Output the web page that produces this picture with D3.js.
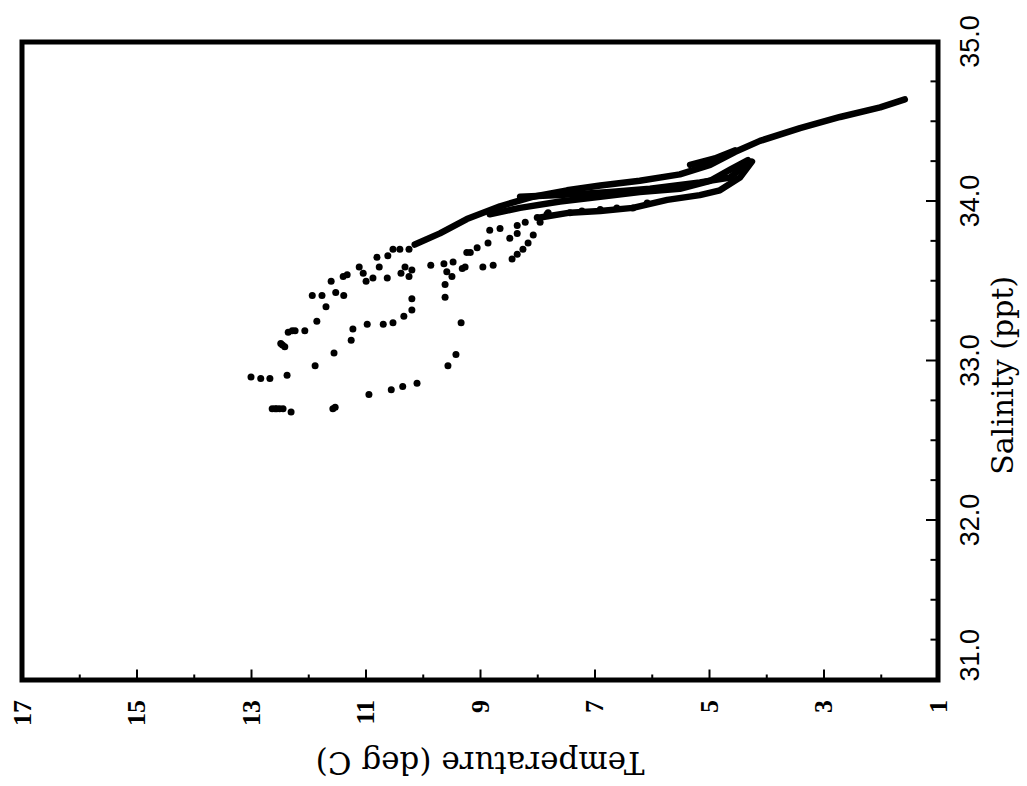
<!DOCTYPE html>
<html>
<head>
<meta charset="utf-8">
<script src="https://cdn.jsdelivr.net/npm/d3@7"></script>
<style>
  body { margin: 0; background: #fff; }
  svg { display: block; }
</style>
</head>
<body>
<script>
// T-S diagram, drawn upright and then turned -90 degrees like the scanned figure

// tick labels
var tempTicks = [17, 15, 13, 11, 9, 7, 5, 3, 1];
var salTicks = [31.0, 32.0, 33.0, 34.0, 35.0];

// shallow casts, [temperature, salinity] -- plotted as dots
var castA = [[13.00,32.90],[12.83,32.89],[12.67,32.89],[12.37,32.91],[11.88,32.97],[11.55,33.05],
  [11.25,33.13],[11.22,33.20],[10.97,33.23],[10.69,33.23],[10.52,33.24],[10.33,33.28],[10.19,33.32],
  [10.19,33.39],[9.61,33.40],[9.61,33.48],[9.49,33.53],[9.58,33.56],[9.31,33.58],[9.26,33.59],
  [8.95,33.59],[8.77,33.60],[8.44,33.64],[8.35,33.67],[8.25,33.70],[8.16,33.74],[8.07,33.79],
  [7.81,33.93],[7.43,33.93],[7.22,33.94],[6.90,33.95],[6.61,33.96],[6.33,33.96],[6.08,33.99]];

var castB = [[12.63,32.70],[12.58,32.70],[12.55,32.70],[12.50,32.70],[12.44,32.70],[12.30,32.68],
  [11.57,32.70],[11.53,32.71],[10.94,32.79],[10.55,32.82],[10.35,32.84],[10.10,32.86],[9.56,32.97],
  [9.42,33.04],[9.33,33.24],[9.23,33.68],[9.17,33.68],[9.05,33.71],[8.86,33.74],[8.83,33.82],
  [8.65,33.83],[8.48,33.77],[8.35,33.80],[8.35,33.85],[8.21,33.87],[8.00,33.90],[7.95,33.87],
  [7.83,33.92]];

var castC = [[12.48,33.11],[12.41,33.09],[12.45,33.10],[12.35,33.18],[12.28,33.19],[12.23,33.19],
  [12.06,33.19],[11.85,33.25],[11.69,33.34],[11.93,33.41],[11.76,33.41],[11.52,33.43],[11.38,33.41],
  [11.60,33.50],[11.39,33.53],[11.32,33.54],[11.11,33.59],[11.04,33.55],[10.99,33.50],[10.87,33.52],
  [10.80,33.65],[10.76,33.59],[10.62,33.52],[10.61,33.66],[10.52,33.70],[10.40,33.70],[10.38,33.55],
  [10.31,33.59],[10.24,33.70],[10.24,33.53],[10.19,33.57],[9.86,33.60],[9.63,33.61],[9.47,33.62]];

// deep parts of the casts, where the dots run together into solid bands
var deep1 = [[10.14,33.73],[9.70,33.80],[9.23,33.89],[8.65,33.97],[8.07,34.03],[7.48,34.07],
  [6.90,34.10],[6.21,34.13],[5.51,34.17],[4.98,34.23],[4.55,34.31],[4.11,34.38],[3.41,34.46],
  [2.71,34.53],[2.01,34.59],[1.58,34.64]];
var deep2 = [[8.83,33.92],[8.30,33.96],[7.60,34.00],[6.90,34.03],[6.21,34.06],[5.51,34.08],
  [4.98,34.13],[4.63,34.20],[4.32,34.26]];
var deep3 = [[7.95,33.90],[7.43,33.93],[6.90,33.94],[6.33,33.96],[5.73,34.01],[5.16,34.04],
  [4.81,34.07],[4.46,34.15],[4.25,34.25]];
var deep4 = [[8.30,34.03],[7.60,34.04],[6.73,34.06],[6.03,34.08],[5.16,34.12],[4.63,34.15],[4.37,34.23]];
var deep5 = [[5.33,34.23],[4.90,34.27],[4.55,34.32]];

var svg = d3.select('body').append('svg')
  .attr('width', 1027)
  .attr('height', 786);

svg.append('rect').attr('width', 1027).attr('height', 786).attr('fill', '#fff');

// upright chart size: salinity across, temperature up
var plotW = 638;
var plotH = 916;

var x = d3.scaleLinear().domain([31, 35]).range([0, plotW]);
var y = d3.scaleLinear().domain([1, 17]).range([plotH, 0]);

var g = svg.append('g')
  .attr('transform', 'translate(22,680) rotate(-90)');

// minor ticks first
var salMinor = d3.range(31.25, 35, 0.25).filter(function(d) { return Math.abs(d - Math.round(d)) > 0.01; });
var tempMinor = d3.range(2, 17, 2);

g.append('g')
  .attr('transform', 'translate(0,' + plotH + ')')
  .call(d3.axisBottom(x).tickValues(salMinor).tickSize(-7.5).tickFormat(''))
  .call(function(a) { a.select('.domain').remove(); a.selectAll('line').attr('stroke-width', 2); });

g.append('g')
  .call(d3.axisLeft(y).tickValues(tempMinor).tickSize(-5.5).tickFormat(''))
  .call(function(a) { a.select('.domain').remove(); a.selectAll('line').attr('stroke-width', 2); });

// major ticks + labels
var salAxis = g.append('g')
  .attr('transform', 'translate(0,' + plotH + ')')
  .call(d3.axisBottom(x).tickValues(salTicks).tickSize(-12).tickPadding(22).tickFormat(d3.format('.1f')));
salAxis.select('.domain').remove();
salAxis.selectAll('line').attr('stroke-width', 2);
salAxis.selectAll('text')
  .attr('font-family', '"Liberation Sans", Arial, sans-serif')
  .attr('font-size', 27)
  .attr('fill', '#000')
  .attr('text-anchor', function(d) { return d === 31 ? 'start' : 'middle'; })
  .attr('x', function(d) { return d === 31 ? -2 : 0; });

var tempAxis = g.append('g')
  .call(d3.axisLeft(y).tickValues(tempTicks).tickSize(-10.5).tickPadding(20).tickFormat(d3.format('d')));
tempAxis.select('.domain').remove();
tempAxis.selectAll('line').attr('stroke-width', 2);
tempAxis.selectAll('text')
  .attr('font-family', '"Liberation Serif", "Times New Roman", serif')
  .attr('font-weight', 'bold')
  .attr('font-size', 26)
  .attr('fill', '#000');

// frame
g.append('rect')
  .attr('x', 0).attr('y', 0)
  .attr('width', plotW).attr('height', plotH)
  .attr('fill', 'none')
  .attr('stroke', '#000')
  .attr('stroke-width', 5);

// axis titles
g.append('text')
  .attr('x', x(32.91))
  .attr('y', plotH + 75)
  .attr('text-anchor', 'middle')
  .attr('font-family', '"DejaVu Serif", serif')
  .attr('font-size', 30)
  .text('Salinity (ppt)');

g.append('text')
  .attr('transform', 'translate(-72,' + (plotH / 2) + ') rotate(-90)')
  .attr('text-anchor', 'middle')
  .attr('font-family', '"DejaVu Serif", serif')
  .attr('font-size', 31)
  .text('Temperature (deg C)');

// data
var line = d3.line()
  .x(function(d) { return x(d[1]); })
  .y(function(d) { return y(d[0]); });

[deep1, deep2, deep3, deep4, deep5].forEach(function(c) {
  g.append('path')
    .datum(c)
    .attr('d', line)
    .attr('fill', 'none')
    .attr('stroke', '#000')
    .attr('stroke-width', 6.5)
    .attr('stroke-linejoin', 'round')
    .attr('stroke-linecap', 'round');
});

[castA, castB, castC].forEach(function(c) {
  g.append('g').selectAll('circle')
    .data(c)
    .enter()
    .append('circle')
      .attr('cx', function(d) { return x(d[1]); })
      .attr('cy', function(d) { return y(d[0]); })
      .attr('r', 3.5)
      .attr('fill', '#000');
});
</script>
</body>
</html>
